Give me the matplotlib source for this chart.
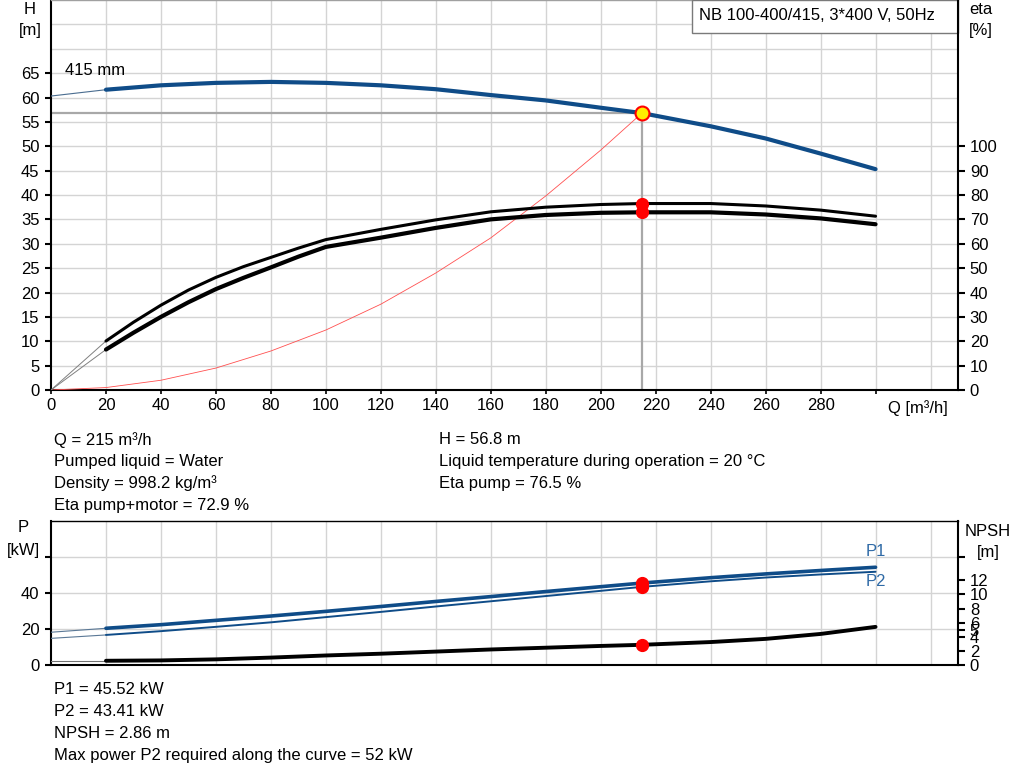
import numpy as np
import matplotlib
matplotlib.use("Agg")
import matplotlib.pyplot as plt
from matplotlib.patches import Rectangle

plt.rcParams['font.family'] = ['Liberation Sans', 'DejaVu Sans']
FS = 12
plt.rcParams['font.size'] = FS

# pump curve data
q_h = [0, 20, 40, 60, 80, 100, 120, 140, 160, 180, 200, 215, 240, 260, 280, 300]
h = [60.3, 61.6, 62.5, 63.0, 63.2, 63.0, 62.5, 61.7, 60.5, 59.4, 57.9, 56.8, 54.1, 51.6, 48.5, 45.3]

q_eta = [0, 20, 30, 40, 50, 60, 70, 80, 90, 100, 120, 140, 160, 180, 200, 215, 240, 260, 280, 300]
eta_pump = [0, 20.1, 27.8, 34.8, 41.0, 46.2, 50.6, 54.4, 58.2, 61.7, 65.9, 69.8, 73.1, 75.0, 76.1, 76.5, 76.5, 75.5, 73.8, 71.3]
eta_total = [0, 16.6, 23.5, 30.0, 36.0, 41.4, 46.0, 50.3, 54.7, 58.7, 62.5, 66.5, 70.0, 71.8, 72.7, 72.9, 72.9, 72.0, 70.4, 68.0]

q_sys = [0, 20, 40, 60, 80, 100, 120, 140, 160, 180, 200, 215]
h_sys = [0, 0.5, 2.0, 4.5, 8.0, 12.3, 17.6, 24.0, 31.2, 39.8, 49.2, 56.8]

q_p = [0, 20, 40, 60, 80, 100, 120, 140, 160, 180, 200, 215, 240, 260, 280, 300]
p1 = [18.2, 20.4, 22.4, 24.8, 27.2, 29.8, 32.5, 35.3, 38.0, 40.8, 43.5, 45.52, 48.5, 50.6, 52.5, 54.3]
p2 = [14.8, 16.7, 18.8, 21.2, 23.7, 26.6, 29.5, 32.5, 35.4, 38.3, 41.2, 43.41, 46.5, 48.6, 50.3, 51.8]
npsh = [0.6, 0.6, 0.65, 0.8, 1.05, 1.35, 1.6, 1.9, 2.2, 2.45, 2.7, 2.86, 3.25, 3.7, 4.4, 5.4]

# operating point
q_op = 215
h_op = 56.8
eta_pump_op = 76.5
eta_total_op = 72.9
p1_op = 45.52
p2_op = 43.41
npsh_op = 2.86

x_ticks = [0, 20, 40, 60, 80, 100, 120, 140, 160, 180, 200, 220, 240, 260, 280, 300]
x_grid = [20, 40, 60, 80, 100, 120, 140, 160, 180, 200, 220, 240, 260, 280, 300, 320]
h_ticks = [0, 5, 10, 15, 20, 25, 30, 35, 40, 45, 50, 55, 60, 65]
h_grid = [5, 10, 15, 20, 25, 30, 35, 40, 45, 50, 55, 60, 65, 70, 75]
eta_ticks = [0, 10, 20, 30, 40, 50, 60, 70, 80, 90, 100]
p_ticks = [0, 20, 40, 60]
npsh_ticks = [0, 2, 4, 5, 6, 8, 10, 12, 15.3]

blue = '#0f4c88'
gridc = '#d4d4d4'

fig = plt.figure(figsize=(10.24, 7.81), dpi=100)
W, H = 1024, 781

def fx(px):
    return px / W

def fy(py):
    return 1 - py / H

# ---------------- top chart: H and eta ----------------
ax = fig.add_axes([fx(51), fy(390), fx(958) - fx(51), fy(0) - fy(390)])
ax.set_xlim(0, 330)
ax.set_ylim(0, 80)
for g in x_grid:
    ax.axvline(g, color=gridc, lw=1, zorder=0)
for g in h_grid:
    ax.axhline(g, color=gridc, lw=1, zorder=0)

ax.set_xticks(x_ticks)
ax.set_xticklabels([str(v) for v in x_ticks[:-1]] + [''])
ax.set_yticks(h_ticks)
ax.tick_params(axis='y', direction='out', length=4.3, width=1.5, pad=4, labelsize=FS)
ax.tick_params(axis='x', direction='out', length=3, width=1.2, pad=3, labelsize=FS)
for s in ['left', 'bottom']:
    ax.spines[s].set_linewidth(1.5)
ax.spines['top'].set_color('#a0a0a0')
ax.spines['top'].set_linewidth(1)
ax.spines['right'].set_visible(False)

# operating point guide lines
ax.plot([0, q_op], [h_op, h_op], color='#a8a8a8', lw=1.6, zorder=2)
ax.plot([q_op, q_op], [0, h_op], color='#a8a8a8', lw=1.6, zorder=2)

# system curve
ax.plot(q_sys, h_sys, color='#ff5050', lw=0.6, zorder=3)

# pump curve
ax.plot(q_h[:2], h[:2], color='#4a6d90', lw=0.8, zorder=3)
ax.plot(q_h[1:], h[1:], color=blue, lw=3, zorder=4, solid_capstyle='round')
ax.text(5, 65.5, '415 mm', fontsize=FS, va='center', ha='left')

ax2 = ax.twinx()
ax2.set_ylim(0, 160)
ax2.set_yticks(eta_ticks)
ax2.tick_params(axis='y', direction='out', length=5, width=1.5, pad=3.5, labelsize=FS)
ax2.spines['right'].set_linewidth(1.5)
for s in ['left', 'top', 'bottom']:
    ax2.spines[s].set_visible(False)

ax2.plot(q_eta[:2], eta_pump[:2], color='#808080', lw=0.7, zorder=3)
ax2.plot(q_eta[:2], eta_total[:2], color='#808080', lw=0.7, zorder=3)
ax2.plot(q_eta[1:], eta_pump[1:], color='black', lw=2.2, zorder=4, solid_capstyle='round')
ax2.plot(q_eta[1:], eta_total[1:], color='black', lw=3, zorder=4, solid_capstyle='round')
ax2.plot([q_op, q_op], [eta_pump_op, eta_total_op], 'o', color='red', ms=8.5, zorder=6)
ax2.plot([q_op], [h_op * 2], 'o', color='#ffee00', mec='red', mew=1.5, ms=10, zorder=7)

# title box
ax.add_patch(Rectangle(((692 - 51) / 907, 1 - 33 / 390), 1 - (692 - 51) / 907, 33 / 390,
                       transform=ax.transAxes, facecolor='white', edgecolor='#7a7a7a',
                       lw=1, zorder=10, clip_on=False))
ax.text((699 - 51) / 907, 1 - 15 / 390, 'NB 100-400/415, 3*400 V, 50Hz', transform=ax.transAxes,
        fontsize=FS, va='center', ha='left', zorder=11)

fig.text(fx(30), fy(9), 'H', ha='center', va='center', fontsize=FS)
fig.text(fx(30), fy(30), '[m]', ha='center', va='center', fontsize=FS)
fig.text(fx(981), fy(10), 'eta', ha='center', va='center', fontsize=FS)
fig.text(fx(981), fy(31), '[%]', ha='center', va='center', fontsize=FS)
fig.text(fx(918), fy(408), 'Q [m³/h]', ha='center', va='center', fontsize=FS)

# info text
info_left = ['Q = 215 m³/h', 'Pumped liquid = Water', 'Density = 998.2 kg/m³', 'Eta pump+motor = 72.9 %']
info_right = ['H = 56.8 m', 'Liquid temperature during operation = 20 °C', 'Eta pump = 76.5 %']
for i, t in enumerate(info_left):
    fig.text(fx(54), fy(440 + i * 21.7), t, ha='left', va='center', fontsize=FS)
for i, t in enumerate(info_right):
    fig.text(fx(439), fy(440 + i * 21.7), t, ha='left', va='center', fontsize=FS)

# ---------------- bottom chart: P and NPSH ----------------
bx = fig.add_axes([fx(51), fy(665), fx(958) - fx(51), fy(521) - fy(665)])
bx.set_xlim(0, 330)
bx.set_ylim(0, 80)
for g in x_grid:
    bx.axvline(g, color=gridc, lw=1, zorder=0)
for g in p_ticks[1:]:
    bx.axhline(g, color=gridc, lw=1, zorder=0)
bx.set_xticks([])
bx.set_yticks(p_ticks)
bx.set_yticklabels(['0', '20', '40', ''])
bx.tick_params(axis='y', direction='out', length=4.3, width=1.5, pad=4, labelsize=FS)
for s in ['left', 'bottom']:
    bx.spines[s].set_linewidth(1.5)
bx.spines['top'].set_linewidth(1)
bx.spines['right'].set_visible(False)

bx.plot(q_p[:2], p1[:2], color='#5a7896', lw=0.8, zorder=3)
bx.plot(q_p[:2], p2[:2], color='#5a7896', lw=0.8, zorder=3)
bx.plot(q_p[1:], p1[1:], color=blue, lw=2.6, zorder=4, solid_capstyle='round')
bx.plot(q_p[1:], p2[1:], color=blue, lw=1.4, zorder=4, solid_capstyle='round')
bx.plot([q_op, q_op], [p1_op, p2_op], 'o', color='red', ms=8.5, zorder=6)
bx.text(300, 63, 'P1', color='#2f6aa6', fontsize=FS, ha='center', va='center')
bx.text(300, 46.5, 'P2', color='#2f6aa6', fontsize=FS, ha='center', va='center')

bx2 = bx.twinx()
bx2.set_ylim(0, 20.4)
bx2.set_yticks(npsh_ticks)
bx2.set_yticklabels([('%g' % v) for v in npsh_ticks[:-1]] + [''])
bx2.tick_params(axis='y', direction='out', length=5, width=1.5, pad=3.5, labelsize=FS)
bx2.spines['right'].set_linewidth(1.5)
for s in ['left', 'top', 'bottom']:
    bx2.spines[s].set_visible(False)
bx2.plot(q_p[:2], npsh[:2], color='#707070', lw=0.8, zorder=3)
bx2.plot(q_p[1:], npsh[1:], color='black', lw=2.8, zorder=4, solid_capstyle='round')
bx2.plot([q_op], [npsh_op], 'o', color='red', ms=8.5, zorder=6)

fig.text(fx(23), fy(528), 'P', ha='center', va='center', fontsize=FS)
fig.text(fx(23), fy(550), '[kW]', ha='center', va='center', fontsize=FS)
fig.text(fx(988), fy(531), 'NPSH', ha='center', va='center', fontsize=FS)
fig.text(fx(988), fy(552), '[m]', ha='center', va='center', fontsize=FS)

info_bottom = ['P1 = 45.52 kW', 'P2 = 43.41 kW', 'NPSH = 2.86 m', 'Max power P2 required along the curve = 52 kW']
for i, t in enumerate(info_bottom):
    fig.text(fx(54), fy(690 + i * 21.7), t, ha='left', va='center', fontsize=FS)

fig.savefig('out.png', dpi=100)
